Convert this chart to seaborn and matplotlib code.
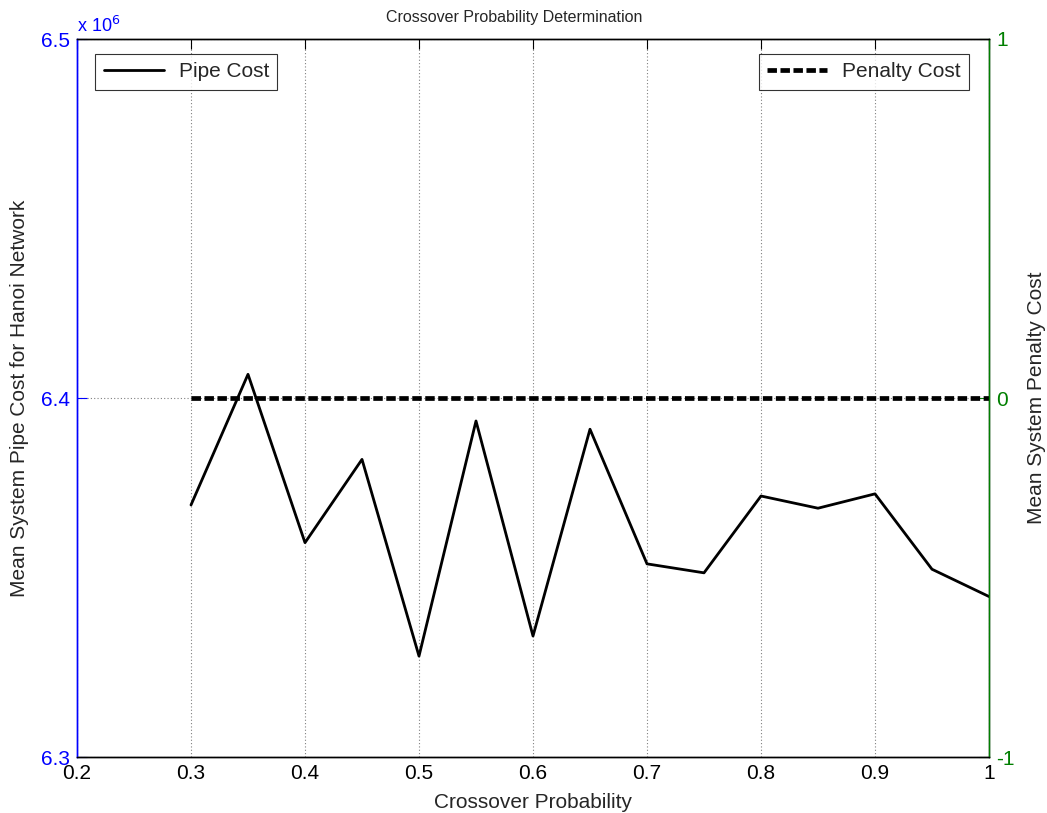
import matplotlib
matplotlib.use("Agg")
import matplotlib.pyplot as plt
import seaborn as sns
import pandas as pd
from matplotlib.ticker import FuncFormatter, FixedLocator

# ---- data ----
crossover_prob = [0.30, 0.35, 0.40, 0.45, 0.50, 0.55, 0.60, 0.65, 0.70, 0.75,
                  0.80, 0.85, 0.90, 0.95, 1.00]
pipe_cost = [6.3702e6, 6.4066e6, 6.3597e6, 6.3829e6, 6.3281e6, 6.3936e6, 6.3337e6,
             6.3913e6, 6.3538e6, 6.3513e6, 6.3727e6, 6.3693e6, 6.3733e6, 6.3523e6,
             6.3447e6]
penalty_cost = [0, 0, 0, 0, 0, 0, 0, 0, 0, 0, 0, 0, 0, 0, 0]
x_ticks = [0.2, 0.3, 0.4, 0.5, 0.6, 0.7, 0.8, 0.9, 1.0]
x_ticklabels = ["0.2", "0.3", "0.4", "0.5", "0.6", "0.7", "0.8", "0.9", "1"]
left_ticks = [6.3e6, 6.4e6, 6.5e6]
right_ticks = [-1, 0, 1]

sns.set_style("white")
plt.rcParams["font.family"] = ["Liberation Sans", "DejaVu Sans"]

df = pd.DataFrame({"p": crossover_prob, "pipe": pipe_cost, "pen": penalty_cost})

fig = plt.figure(figsize=(10.47, 8.13), dpi=100)
ax = fig.add_axes([77 / 1047, 56 / 813, 912 / 1047, 718 / 813])
ax2 = ax.twinx()

blue = "#0000ff"
green = "#007f00"

sns.lineplot(data=df, x="p", y="pipe", ax=ax, color="black", linewidth=2.0,
             label="Pipe Cost", legend=False)
sns.lineplot(data=df, x="p", y="pen", ax=ax2, color="black", linewidth=3.4,
             label="Penalty Cost", legend=False)
ax2.lines[0].set_dashes((2.0, 0.75))

ax.set_xlim(0.2, 1.0)
ax.set_ylim(6.3e6, 6.5e6)
ax2.set_ylim(-1, 1)

ax.xaxis.set_major_locator(FixedLocator(x_ticks))
ax.set_xticklabels(x_ticklabels)
ax.yaxis.set_major_locator(FixedLocator(left_ticks))
ax.yaxis.set_major_formatter(FuncFormatter(lambda v, p: f"{v/1e6:.1f}"))
ax2.yaxis.set_major_locator(FixedLocator(right_ticks))
ax2.set_yticklabels(["-1", "0", "1"])

# grid
ax.grid(True, which="major", axis="both", linestyle=(0, (1, 2)), color="#808080",
        linewidth=0.8)
ax.set_axisbelow(True)

fs = 15
ax.tick_params(axis="x", direction="in", length=7, labelsize=fs, colors="black",
               top=True, pad=5)
ax.tick_params(axis="y", direction="in", length=7, labelsize=fs, colors=blue,
               labelcolor=blue, pad=5)
ax2.tick_params(axis="y", direction="in", length=7, labelsize=fs, colors=green,
                labelcolor=green, pad=5)

for a in (ax, ax2):
    for s in a.spines.values():
        s.set_linewidth(1.0)
        s.set_color("black")
ax2.spines["left"].set_color(blue)
ax.spines["left"].set_color(blue)
ax2.spines["right"].set_color(green)

ax.set_xlabel("Crossover Probability", fontsize=fs, labelpad=7)
ax.set_ylabel("Mean System Pipe Cost for Hanoi Network", fontsize=fs, labelpad=9)
ax2.set_ylabel("Mean System Penalty Cost", fontsize=fs, labelpad=9)
ax.set_title("Crossover Probability Determination", fontsize=11.5, pad=12,
             x=0.479)

ax.text(0.0, 1.004, r"x 10$^{6}$", transform=ax.transAxes, color=blue,
        fontsize=13, ha="left", va="bottom")

leg1 = ax.legend(loc="upper left", bbox_to_anchor=(0.02, 0.979), fontsize=fs,
                 frameon=True, fancybox=False, edgecolor="black", handlelength=2.9,
                 handletextpad=0.7, borderaxespad=0, borderpad=0.4)
leg1.get_frame().set_linewidth(0.8)
leg2 = ax2.legend(loc="upper right", bbox_to_anchor=(0.978, 0.979), fontsize=fs,
                  frameon=True, fancybox=False, edgecolor="black", handlelength=2.9,
                  handletextpad=0.7, borderaxespad=0, borderpad=0.4)
leg2.get_frame().set_linewidth(0.8)

fig.savefig("out.png", dpi=100, facecolor="white")
